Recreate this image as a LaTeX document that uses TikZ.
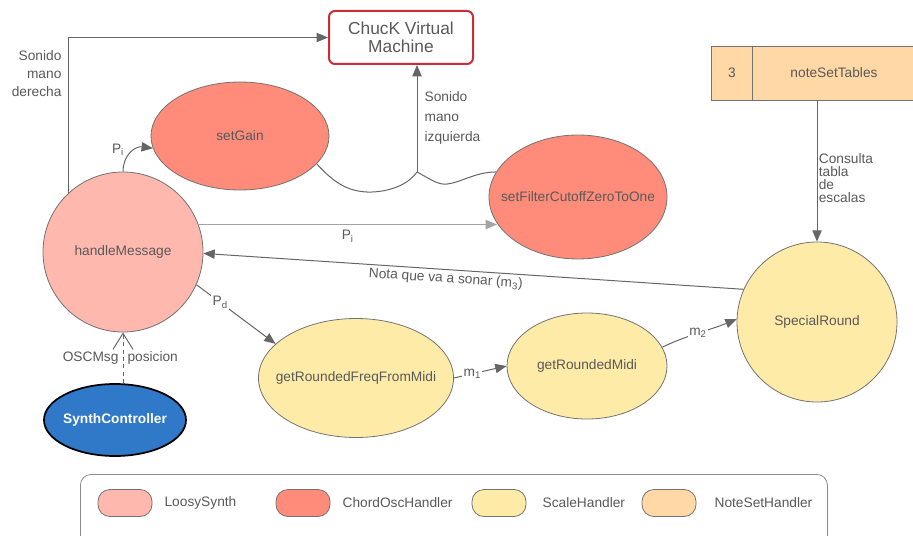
\documentclass[tikz,border=0pt]{standalone}
\usepackage{fontspec}
\setmainfont{Liberation Sans}
\usetikzlibrary{shapes.geometric, arrows.meta, positioning, shadows}

\definecolor{loosy}{HTML}{FFB8AE}
\definecolor{chord}{HTML}{FF8C7B}
\definecolor{scalecol}{HTML}{FFEBA8}
\definecolor{noteset}{HTML}{FFD8A6}
\definecolor{ctrlblue}{HTML}{3078C8}
\definecolor{txtgray}{HTML}{595959}
\definecolor{linegray}{HTML}{666666}
\definecolor{vmred}{HTML}{C92D39}

\tikzset{
  txt/.style={text=txtgray, font=\fontsize{10.3}{12}\selectfont, inner sep=1pt},
  blob/.style={ellipse, draw=black!55, line width=0.6pt, inner sep=0pt, text=txtgray, font=\fontsize{10.3}{12}\selectfont},
  synthnode/.style={blob, fill=loosy},
  chordnode/.style={blob, fill=chord},
  scalenode/.style={blob, fill=scalecol},
  swatch/.style={draw=black!55, line width=0.6pt, rounded corners=9pt, minimum width=40.5pt, minimum height=20.25pt},
  link/.style={draw=linegray, line width=0.75pt},
  arr/.style={link, -{Triangle[length=8.5pt,width=7pt]}},
  elbl/.style={txt, fill=white},
}

\begin{document}
\begin{tikzpicture}[x=0.75pt, y=-0.75pt]
    \useasboundingbox (0,0) rectangle (913,535);

    % Virtual machine
    \node[draw=vmred, line width=1.5pt, rounded corners=4.5pt, minimum width=108pt, minimum height=39.75pt,
          align=center, text=txtgray, font=\fontsize{13}{13.5}\selectfont] (vm) at (401,37.5) {ChucK Virtual\\Machine};

    % Note set table
    \node[draw=black!55, line width=0.6pt, fill=noteset, minimum width=159pt, minimum height=40.5pt] (tables) at (817,73) {};
    \draw[draw=black!55, line width=0.6pt] ([xshift=31.5pt]tables.north west) -- ([xshift=31.5pt]tables.south west);
    \node[txt] (tidx) at (732,73) {3};
    \node[txt] (tname) at (834,73) {noteSetTables};

    % Handlers
    \node[synthnode, circle, minimum size=120pt] (hm) at (123,252) {handleMessage};
    \node[chordnode, minimum width=133.5pt, minimum height=81pt] (gain) at (240,136) {setGain};
    \node[chordnode, minimum width=133.5pt, minimum height=93pt] (filt) at (578,197) {};
    \node[txt] (filttxt) at (filt) {setFilterCutoffZeroToOne};
    \node[scalenode, minimum width=146.25pt, minimum height=89.25pt] (freq) at (356,378) {};
    \node[txt] (freqtxt) at (freq) {getRoundedFreqFromMidi};
    \node[scalenode, minimum width=120pt, minimum height=79.5pt] (rmidi) at (587,366) {getRoundedMidi};
    \node[scalenode, circle, minimum size=120pt] (special) at (817,322) {SpecialRound};

    % Controller
    \node[ellipse, draw=black, line width=1.3pt, fill=ctrlblue, minimum width=106.5pt, minimum height=54pt] (synth) at (115,420) {};
    \node[text=white, font=\bfseries\fontsize{10.3}{12}\selectfont] (synthtxt) at (synth) {SynthController};

    % Sound to the VM
    \draw[arr] (hm.133) |- (vm.west);
    \node[txt, align=right, anchor=east, font=\fontsize{10.3}{13.5}\selectfont] (lblder) at (63,74) {Sonido\\mano\\derecha};
    \coordinate (join) at (417,172);
    \draw[link] (gain.-20) .. controls (330,178) and (345,193) .. (372,192) .. controls (395,191) and (410,182) .. (join);
    \draw[link] (join) .. controls (432,180) and (438,185) .. (447,184) .. controls (460,183) and (475,172) .. (filt.163);
    \draw[arr] (join) -- (join |- vm.south);
    \node[txt, align=left, anchor=west, font=\fontsize{10.3}{15}\selectfont] (lblizq) at (423,118) {Sonido\\mano\\izquierda};

    % Messages out of handleMessage
    \draw[arr] (hm.north) .. controls (123,155) and (135,146) .. (gain.188);
    \node[txt] (lblpi1) at (118,150) {P\textsubscript{i}};
    \draw[arr, draw=linegray!60] (hm.20) -- node[txt, below=3pt] (lblpi2) {P\textsubscript{i}} (hm.20 -| filt.198);
    \draw[arr] (hm.-24) -- node[elbl, pos=.3] (lblpd) {P\textsubscript{d}} (freq.157);

    % Scale chain
    \draw[arr] (freq.east) -- node[elbl, pos=.35] (lblm1) {m\textsubscript{1}} (rmidi.west);
    \draw[arr] (rmidi.14) .. controls (685,336) and (710,330) .. node[elbl, pos=.5] (lblm2) {m\textsubscript{2}} (special.178);
    \draw[arr] (tables.south) -- node[txt, right, pos=.55, align=left, font=\fontsize{10.3}{9.75}\selectfont] (lblcons) {Consulta\\tabla\\de\\escalas} (special.north);
    \draw[arr] (special.156) -- node[txt, sloped, below=1pt, pos=.55] (lblnota) {Nota que va a sonar (m\textsubscript{3})} (hm.-1);

    % OSC input
    \draw[link, dash pattern=on 3pt off 2.5pt, -{Straight Barb[length=12pt,width=15pt]}] (hm.south |- synth.north) --
        node[txt, left=2pt] (lblosc) {OSCMsg} node[txt, right=2pt] (lblpos) {posicion} (hm.south);

    % Legend
    \node[draw=black!45, line width=0.6pt, rounded corners=8pt, fill=white, anchor=north west,
          drop shadow={shadow xshift=0.5pt, shadow yshift=-1pt, opacity=.35},
          minimum width=560.25pt, minimum height=55.5pt] (legend) at (80,474) {};
    \foreach \col/\x/\lx/\name in {loosy/125/163/LoosySynth, chord/303/341/ChordOscHandler, scalecol/499/541/ScaleHandler, noteset/669/713/NoteSetHandler} {
        \node[swatch, fill=\col] (key\name) at (\x,503) {};
        \node[txt, anchor=west] (keytxt\name) at (\lx,503) {\name};
    }
\end{tikzpicture}
\end{document}
